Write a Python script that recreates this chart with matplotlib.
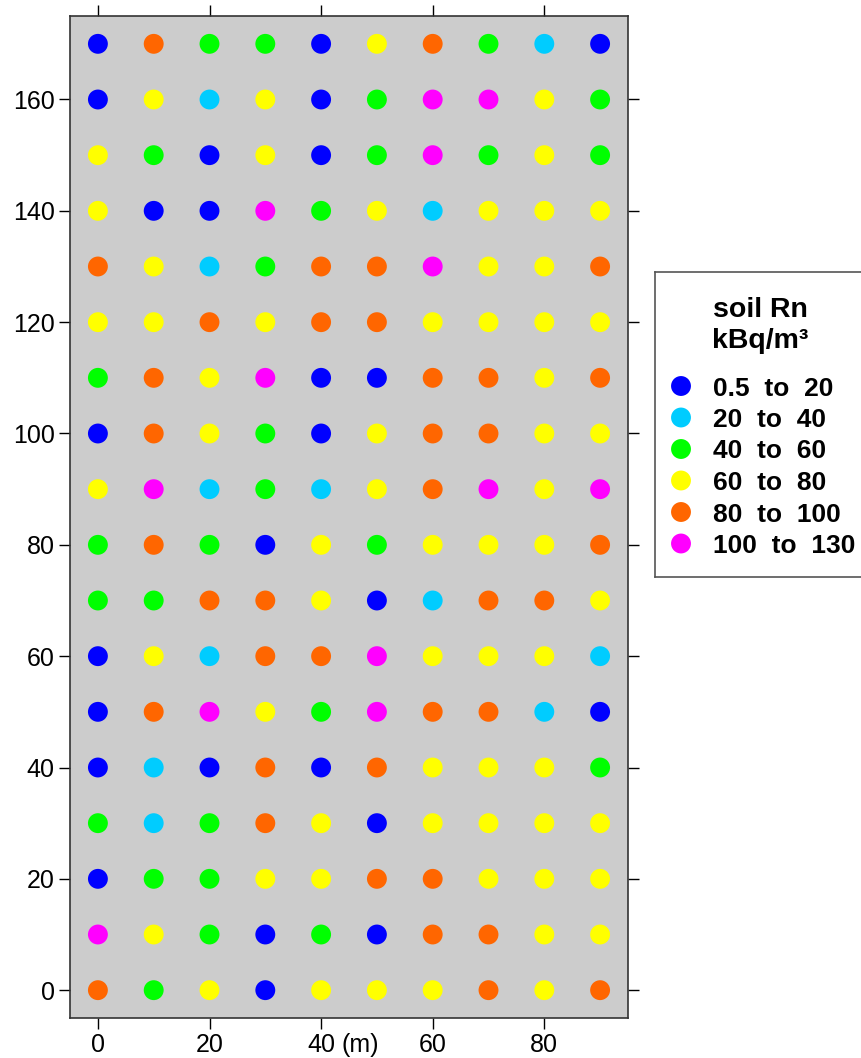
import numpy as np
import matplotlib
matplotlib.use("Agg")
import matplotlib.pyplot as plt

plt.rcParams.update({
    'font.family': ['Liberation Sans', 'DejaVu Sans'],
    'font.size': 18,
})

# sampling grid (m)
x_pos = [0, 10, 20, 30, 40, 50, 60, 70, 80, 90]
y_pos = [170, 160, 150, 140, 130, 120, 110, 100, 90, 80, 70, 60, 50, 40, 30, 20, 10, 0]

# concentration class at each grid node, one row per y (top row first)
# 0: 0.5-20, 1: 20-40, 2: 40-60, 3: 60-80, 4: 80-100, 5: 100-130
rn_class = [
    [0, 4, 2, 2, 0, 3, 4, 2, 1, 0],
    [0, 3, 1, 3, 0, 2, 5, 5, 3, 2],
    [3, 2, 0, 3, 0, 2, 5, 2, 3, 2],
    [3, 0, 0, 5, 2, 3, 1, 3, 3, 3],
    [4, 3, 1, 2, 4, 4, 5, 3, 3, 4],
    [3, 3, 4, 3, 4, 4, 3, 3, 3, 3],
    [2, 4, 3, 5, 0, 0, 4, 4, 3, 4],
    [0, 4, 3, 2, 0, 3, 4, 4, 3, 3],
    [3, 5, 1, 2, 1, 3, 4, 5, 3, 5],
    [2, 4, 2, 0, 3, 2, 3, 3, 3, 4],
    [2, 2, 4, 4, 3, 0, 1, 4, 4, 3],
    [0, 3, 1, 4, 4, 5, 3, 3, 3, 1],
    [0, 4, 5, 3, 2, 5, 4, 4, 1, 0],
    [0, 1, 0, 4, 0, 4, 3, 3, 3, 2],
    [2, 1, 2, 4, 3, 0, 3, 3, 3, 3],
    [0, 2, 2, 3, 3, 4, 4, 3, 3, 3],
    [5, 3, 2, 0, 2, 0, 4, 4, 3, 3],
    [4, 2, 3, 0, 3, 3, 3, 4, 3, 4],
]

class_labels = ['0.5  to  20', '20  to  40', '40  to  60',
                '60  to  80', '80  to  100', '100  to  130']
class_colors = ['#0000FF', '#00CCFF', '#00FF00', '#FFFF00', '#FF6600', '#FF00FF']

xticks = [0, 20, 40, 60, 80]
xtick_labels = ['0', '20', '40', '60', '80']
yticks = [0, 20, 40, 60, 80, 100, 120, 140, 160]

W, H = 861, 1058
fig = plt.figure(figsize=(W / 100, H / 100), dpi=100)
ax = fig.add_axes([70 / W, 1 - 1018 / H, 558 / W, 1002 / H])
ax.set_facecolor('#CCCCCC')

X, Y = np.meshgrid(x_pos, y_pos)
cls = np.array(rn_class)
cols = np.array(class_colors)[cls]
ax.scatter(X.ravel(), Y.ravel(), s=205, c=cols.ravel(), edgecolors='none', zorder=3)

ax.set_xlim(-5, 95)
ax.set_ylim(-5, 175)
ax.set_xticks(xticks)
ax.set_xticklabels(xtick_labels)
ax.set_yticks(yticks)
ax.tick_params(direction='out', length=8, width=1, top=True, right=True,
               labeltop=False, labelright=False, pad=3, colors='black')
for sp in ax.spines.values():
    sp.set_color('#333333')
    sp.set_linewidth(1.2)

# unit tag trailing the "40" label
ax.annotate('(m)', xy=(40, 0), xycoords=('data', 'axes fraction'),
            xytext=(15, -11), textcoords='offset points',
            ha='left', va='top', fontsize=18)

# key box on the right, drawn in pixel offsets from its top-left corner
lg = fig.add_axes([655 / W, 1 - 577 / H, 230 / W, 305 / H])
lg.set_xlim(0, 230)
lg.set_ylim(305, 0)
lg.set_xticks([])
lg.set_yticks([])
for sp in lg.spines.values():
    sp.set_color('#555555')
    sp.set_linewidth(1.2)
lg.text(105, 45, 'soil Rn', ha='center', va='baseline', fontsize=20.5, fontweight='bold')
lg.text(105, 76, 'kBq/m³', ha='center', va='baseline', fontsize=20.5, fontweight='bold')
entry_y = 114 + 31.5 * np.arange(len(class_labels))
lg.scatter([26] * len(class_labels), entry_y, s=205, c=class_colors, edgecolors='none')
for yy, lab in zip(entry_y, class_labels):
    lg.text(58, yy + 9.5, lab, ha='left', va='baseline', fontsize=19, fontweight='bold')

fig.savefig('out.png', dpi=100)
